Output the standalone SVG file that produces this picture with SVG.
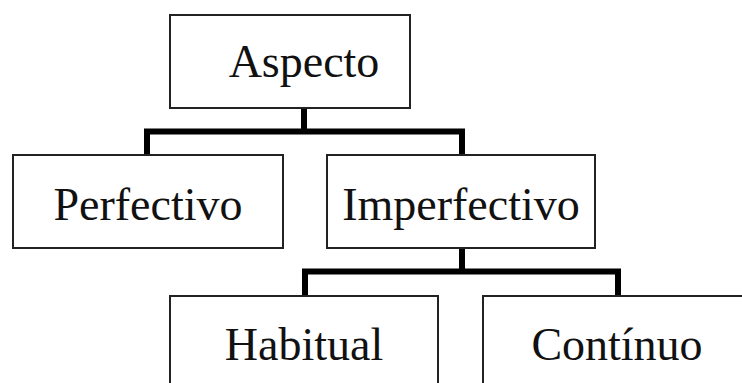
<svg xmlns="http://www.w3.org/2000/svg" width="742" height="383" viewBox="0 0 742 383">
<style>
.box{fill:#fff;stroke:#222;stroke-width:2}
.lbl{font-family:"Liberation Serif","Times New Roman",serif;font-size:46px;fill:#111;text-anchor:middle}
.con{fill:none;stroke:#000;stroke-width:6;stroke-linejoin:miter;stroke-linecap:butt}
</style>
<rect width="742" height="383" fill="#fff"/>
<g id="connectors">
<path class="con" d="M304 108V131.5M147 156V131.5H462V156"/>
<path class="con" d="M462 248V271.5M305 297V271.5H618V297"/>
</g>
<g id="aspecto"><rect class="box" x="170" y="15" width="240" height="93"/><text class="lbl" x="304" y="77">Aspecto</text></g>
<g id="perfectivo"><rect class="box" x="13" y="155" width="270" height="93"/><text class="lbl" x="148" y="220">Perfectivo</text></g>
<g id="imperfectivo"><rect class="box" x="327" y="155" width="268" height="93"/><text class="lbl" x="461" y="220">Imperfectivo</text></g>
<g id="habitual"><rect class="box" x="170" y="296" width="268" height="100"/><text class="lbl" x="304" y="360">Habitual</text></g>
<g id="continuo"><rect class="box" x="483" y="296" width="268" height="100"/><text class="lbl" x="617" y="360">Contínuo</text></g>
</svg>
